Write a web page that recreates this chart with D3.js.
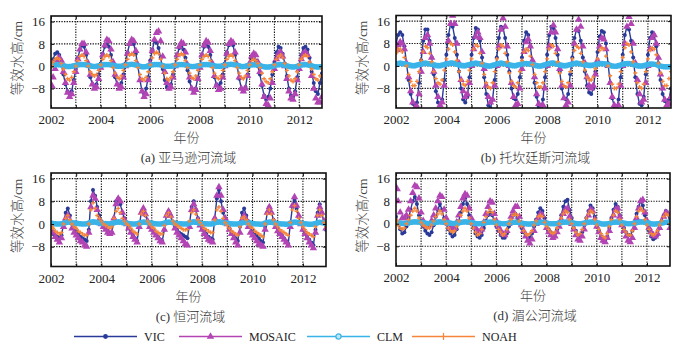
<!DOCTYPE html>
<html>
<head>
<meta charset="utf-8">
<script src="https://cdn.jsdelivr.net/npm/d3@7"></script>
<style>
  body { margin: 0; background: #fff; }
  svg { display: block; }
  text { font-family: "Liberation Serif", "Noto Sans CJK SC", serif; fill: #222; }
</style>
</head>
<body>
<svg id="chart" width="688" height="353"></svg>
<script>
const startYear = 2002;
const gridYears = [2002, 2003, 2004, 2005, 2006, 2007, 2008, 2009, 2010, 2011, 2012];
const labelYears = [2002, 2004, 2006, 2008, 2010, 2012];
const yTicks = [16, 8, 0, -8];
const yDomain = [-15, 18];
const seriesNames = ["VIC", "MOSAIC", "CLM", "NOAH"];
const captions = ["(a) 亚马逊河流域", "(b) 托坎廷斯河流域", "(c) 恒河流域", "(d) 湄公河流域"];
const yTitle = "等效水高/cm";
const xTitle = "年份";

// monthly values, Jan 2002 - Dec 2012, one row per year
const amazonVIC = [
  0, 2.5, 4.5, 5, 4, 1, -3, -6.5, -9, -10, -9, -5,
  -1, 3, 6, 7.5, 7, 4, 0, -4, -6.5, -7.5, -6.5, -3,
  1, 4.5, 7, 8, 7, 4, 0, -4, -6.5, -7, -6, -3,
  1, 5, 8, 9, 8, 4.5, 0, -5, -9, -10, -8, -4,
  2, 6, 9, 8.5, 6.5, 3, -1, -5, -7.5, -8, -6.5, -3,
  0.5, 4, 6.5, 7, 6, 3, -1.5, -5.5, -8, -9, -8, -4,
  0, 4, 7, 8, 7, 4, 0, -4, -6.5, -7, -6, -3,
  1, 5, 7.5, 8.5, 7.5, 4, 0, -4.5, -8, -9, -7.5, -3,
  1, 2.5, 3, 2, 0, -3, -7, -10.5, -12, -11, -8, -3,
  1.5, 5, 7, 6.5, 4.5, 1, -3.5, -8, -10.5, -11, -9, -4,
  0.5, 4, 6.5, 7, 6, 3, -2, -6, -9, -10, -6, -2.5
];
const amazonMOSAIC = [
  -7, -4, -1, 2, 3, 2, -2, -6, -9.5, -11, -10, -6,
  -2, 2.5, 6, 8, 8, 5, 1, -3, -6.5, -8, -7.5, -4.5,
  -0.5, 4, 7.5, 9.5, 9, 6, 1.5, -3, -6.5, -8, -7.5, -4,
  0, 4.5, 8, 9.5, 9, 5.5, 0.5, -5, -9, -11, -10, -5,
  1, 5.5, 9.5, 12, 12.5, 9, 3.5, -2, -6, -8, -7.5, -4,
  0, 4, 7, 8.5, 8, 5, 0.5, -4, -8, -9.5, -8.5, -4.5,
  -0.5, 4, 7.5, 9, 8.5, 5.5, 1, -3.5, -7, -8.5, -8, -4,
  0, 4.5, 8, 9, 8.5, 5, 0.5, -4, -8, -9, -8, -3.5,
  1, 3.5, 4.5, 4, 1.5, -2, -6.5, -11, -13.5, -14, -11.5, -6,
  -1, 2.5, 4.5, 5, 3.5, 0, -4.5, -9, -11.5, -12, -10, -5,
  -1, 2.5, 4.5, 5, 4, 1, -3.5, -8, -11.5, -13, -13, -11
];
const amazonCLM = [
  0.2, 0.4, 0.5, 0.6, 0.5, 0.4, 0.2, 0, -0.1, -0.1, 0, 0.1,
  0.3, 0.4, 0.6, 0.6, 0.6, 0.4, 0.3, 0.1, 0, -0.1, 0, 0.1,
  0.3, 0.5, 0.6, 0.6, 0.6, 0.4, 0.3, 0.1, 0, 0, 0, 0.2,
  0.3, 0.5, 0.6, 0.7, 0.6, 0.4, 0.2, 0, -0.2, -0.2, -0.1, 0.1,
  0.3, 0.5, 0.6, 0.6, 0.6, 0.4, 0.2, 0, 0, 0, 0, 0.2,
  0.3, 0.4, 0.6, 0.6, 0.6, 0.4, 0.2, 0, -0.1, -0.1, 0, 0.1,
  0.3, 0.5, 0.6, 0.6, 0.6, 0.4, 0.3, 0.1, 0, 0, 0, 0.2,
  0.3, 0.5, 0.6, 0.7, 0.6, 0.5, 0.3, 0.1, -0.1, -0.1, 0, 0.2,
  0.3, 0.5, 0.5, 0.5, 0.4, 0.2, 0, -0.2, -0.3, -0.3, -0.2, 0,
  0.2, 0.4, 0.5, 0.6, 0.5, 0.3, 0.1, -0.1, -0.2, -0.3, -0.2, 0,
  0.2, 0.4, 0.5, 0.6, 0.5, 0.3, 0.1, -0.1, -0.2, -0.3, -0.2, -0.1
];
const amazonNOAH = [
  0, 1.5, 2.5, 3, 2.5, 1, -1, -3, -4.5, -5, -4, -2,
  0, 2, 3.5, 4, 3.5, 2, 0, -2, -3, -3.5, -3, -1.5,
  0.5, 2.5, 3.5, 4, 3.5, 2, -0.5, -2.5, -4, -4.5, -3.5, -1.5,
  0.5, 2.5, 4, 4.5, 4, 2, -0.5, -3, -4.5, -5, -4, -2,
  0.5, 3, 4.5, 5, 4.5, 2.5, 0, -2.5, -4.5, -5, -4, -2,
  0.5, 2.5, 4, 4.5, 4, 2, -0.5, -2.5, -4, -4.5, -3.5, -1.5,
  0.5, 2.5, 3.5, 4, 3.5, 2, -0.5, -2.5, -4, -4.5, -3.5, -1.5,
  0.5, 2.5, 3.5, 4, 3.5, 2, -0.5, -2.5, -4, -4.5, -3.5, -1.5,
  0.5, 2, 2.5, 2, 1, -0.5, -2.5, -4.5, -5.5, -6, -4.5, -2,
  0.5, 2.5, 3.5, 4, 3, 1, -1.5, -3.5, -5, -5.5, -4.5, -2,
  0.5, 2.5, 3.5, 4, 3.5, 1.5, -1, -3, -4.5, -5, -3.5, -1
];

const tocantinsVIC = [
  8, 11, 12, 11, 7, 1, -5, -10, -13.5, -14, -13, -6,
  2, 9, 13, 13, 9, 3, -3, -9, -13, -14, -12, -5,
  4, 11, 15, 14, 10, 4, -2, -8, -12, -13, -11, -4,
  4, 10, 13.5, 13, 9, 3, -4, -10, -14, -15, -12, -5,
  3, 10, 14, 13.5, 10, 4, -2, -8, -11.5, -12, -10, -4,
  3, 9, 12, 11, 7, 1, -6, -11, -14.5, -15, -12, -4,
  4, 11, 14, 13.5, 10, 4, -2, -8, -11.5, -12, -10, -3,
  3, 10, 13, 12.5, 9, 3, -2, -7, -9.5, -10, -8, -2,
  5, 10.5, 12.5, 12, 8, 1, -6, -11.5, -14.5, -15, -12, -4,
  4, 11, 14, 13, 9, 3, -4, -10, -13.5, -14, -11, -3,
  4, 10, 12, 11, 7, 1, -5, -10, -12.5, -13, -12, -8
];
const tocantinsMOSAIC = [
  6, 7.5, 8.5, 8, 6, 1, -4, -9, -13, -15, -14.5, -10,
  -2, 5, 10, 11, 8, 3, -2, -7, -11, -14, -13, -7,
  1, 9, 15, 18, 15, 8, 1, -5, -9, -11, -10, -6,
  0, 6, 10.5, 12, 10, 5, -1, -7, -11, -13, -12, -7,
  0, 7, 13, 17, 14, 7, 0, -6, -11, -14, -13.5, -8,
  -1, 5, 8.5, 9.5, 7, 2, -4, -10, -13.5, -15, -14, -8,
  0, 7, 12, 14.5, 12, 6, -1, -7, -11.5, -14, -13, -7,
  1, 8, 13, 16.5, 14, 7, 1, -4, -7, -8, -7, -3,
  2, 7, 10, 9.5, 6, 0, -6, -11, -14, -15, -14, -7,
  0, 8, 14, 17.5, 15, 8, 1, -5, -10, -13, -12, -6,
  0, 6, 10, 11, 8, 3, -3, -8, -12, -14, -13.5, -11
];
const tocantinsCLM = [
  0.8, 0.9, 1, 0.9, 0.8, 0.6, 0.4, 0.2, 0.1, 0.1, 0.3, 0.5,
  0.7, 0.9, 1, 0.9, 0.8, 0.6, 0.4, 0.2, 0.1, 0.1, 0.3, 0.5,
  0.8, 0.9, 1, 1, 0.9, 0.6, 0.4, 0.2, 0.1, 0.1, 0.3, 0.5,
  0.7, 0.9, 1, 0.9, 0.8, 0.5, 0.3, 0.1, 0, 0, 0.2, 0.4,
  0.7, 0.9, 1, 0.9, 0.8, 0.6, 0.4, 0.2, 0.1, 0.1, 0.3, 0.5,
  0.7, 0.9, 0.9, 0.8, 0.7, 0.5, 0.3, 0.1, 0, 0, 0.2, 0.4,
  0.7, 0.9, 1, 1, 0.9, 0.6, 0.4, 0.2, 0.1, 0.1, 0.3, 0.5,
  0.7, 0.9, 1, 0.9, 0.8, 0.6, 0.4, 0.3, 0.2, 0.2, 0.3, 0.5,
  0.7, 0.9, 0.9, 0.8, 0.7, 0.4, 0.2, 0, -0.1, -0.1, 0.1, 0.3,
  0.6, 0.8, 0.9, 0.9, 0.8, 0.5, 0.3, 0.1, 0, 0, 0.1, 0.3,
  0.5, 0.7, 0.7, 0.6, 0.5, 0.2, 0, -0.2, -0.3, -0.3, -0.3, -0.2
];
const tocantinsNOAH = [
  5, 6, 6, 5, 3, 0, -3, -5.5, -7, -7, -5.5, -2,
  2, 5, 7, 6.5, 4.5, 1.5, -2, -4.5, -6, -6.5, -5, -1.5,
  2.5, 6, 8, 7.5, 5, 2, -2, -5, -6.5, -7, -5.5, -1.5,
  2.5, 6, 7.5, 7, 4.5, 1, -3, -6, -7.5, -8, -6, -2,
  2.5, 6, 7.5, 7, 4.5, 1.5, -2.5, -5.5, -7, -7.5, -6, -2,
  2, 5, 6, 5.5, 3.5, 0.5, -3, -6, -7.5, -7.5, -6, -2,
  2.5, 6, 7.5, 7, 4.5, 1.5, -2.5, -5.5, -7, -7.5, -6, -2,
  2.5, 5.5, 7, 6.5, 4.5, 1.5, -1.5, -4, -5, -5, -4, -1,
  2.5, 5.5, 6.5, 6, 3.5, 0, -3.5, -6.5, -8, -8, -6.5, -2,
  3, 6.5, 8, 7.5, 5, 1.5, -2.5, -6, -7.5, -8, -6.5, -2,
  2.5, 5.5, 6.5, 6, 4, 1, -2.5, -5.5, -7, -7, -4.5, -2
];

const gangesVIC = [
  -3, -3.5, -4, -4.5, -5, -4, 0, 4, 5.5, 3, 0, -1.5,
  -2.5, -3.5, -4.5, -5, -5.5, -6, -2, 8, 12, 10, 6, 3,
  1, -0.5, -1.5, -2.5, -3, -3, 2, 8, 9, 7, 4, 2,
  0.5, -1, -2.5, -4, -5, -6, -1, 4, 5, 3, 1, -0.5,
  -1.5, -2.5, -3.5, -4.5, -5.5, -6, -2, 3, 4.5, 3, 0.5, -1,
  -2, -3, -3.5, -4, -4.5, -5, 0, 6, 8, 5, 2, 0,
  -1.5, -2.5, -3.5, -4.5, -5, -5.5, 2, 9, 12, 8, 4, 1.5,
  0, -1.5, -3, -4, -5, -6, -1, 4, 5.5, 3, 1, -0.5,
  -2, -3, -4, -5, -6, -6.5, -1, 4, 6, 4, 1.5, 0,
  -1.5, -3, -4, -5, -6, -7, 0, 6, 8.5, 5.5, 2.5, 0,
  -2, -3, -4.5, -5.5, -6.5, -7.5, -2, 4, 7, 4, 0.5, -2
];
const gangesMOSAIC = [
  -2, -3, -4.5, -5.5, -6.5, -5, -1, 2, 3, 1, -1.5, -3,
  -4, -5, -6, -6.5, -7.5, -8, -3, 6, 10, 9, 5, 1.5,
  0, -1, -2, -3, -3.5, -3, 2, 7, 9, 8, 4, 1.5,
  0, -1.5, -3, -4.5, -5.5, -6.5, -1, 4, 5.5, 3.5, 1, -1,
  -2, -3, -4, -5, -6, -6.5, -2, 3, 4.5, 3, 0.5, -1.5,
  -3, -4, -5, -6, -7, -7.5, -1, 5, 7, 5, 1.5, -0.5,
  -2, -3.5, -4.5, -5.5, -6, -6.5, 2, 10, 13, 10, 5, 2,
  0, -2, -3.5, -5, -6.5, -7.5, -3, 1.5, 3, 1.5, -1, -3,
  -4, -5, -6, -7, -7.5, -8, -2, 4, 6, 4, 1, -1,
  -2.5, -3.5, -4.5, -5.5, -6.5, -7.5, -1, 6.5, 9.5, 6.5, 3, 0,
  -2, -3.5, -5, -6.5, -7.5, -8.5, -3, 3, 6, 4, 1, -1.5
];
const gangesCLM = [
  0.3, 0.2, 0.1, 0, 0, 0.1, 0.3, 0.5, 0.7, 0.6, 0.5, 0.3,
  0.3, 0.2, 0.1, 0, 0, 0.1, 0.3, 0.6, 0.8, 0.7, 0.5, 0.4,
  0.3, 0.2, 0.2, 0.1, 0.1, 0.2, 0.4, 0.6, 0.8, 0.7, 0.5, 0.4,
  0.3, 0.2, 0.1, 0, 0, 0.1, 0.3, 0.5, 0.7, 0.6, 0.5, 0.4,
  0.3, 0.2, 0.1, 0, 0, 0.1, 0.3, 0.5, 0.7, 0.6, 0.5, 0.3,
  0.2, 0.1, 0.1, 0, 0, 0.1, 0.4, 0.6, 0.8, 0.6, 0.5, 0.3,
  0.2, 0.1, 0.1, 0, 0, 0.1, 0.4, 0.6, 0.8, 0.7, 0.5, 0.4,
  0.3, 0.2, 0.1, 0, 0, 0, 0.2, 0.4, 0.6, 0.5, 0.4, 0.3,
  0.2, 0.1, 0, 0, -0.1, 0, 0.3, 0.5, 0.7, 0.6, 0.5, 0.3,
  0.2, 0.1, 0, 0, -0.1, 0, 0.3, 0.5, 0.7, 0.6, 0.5, 0.3,
  0.2, 0.1, 0, -0.1, -0.1, 0, 0.2, 0.4, 0.6, 0.5, 0.4, 0.2
];
const gangesNOAH = [
  -1, -1.5, -2.5, -3, -3.5, -3, 0, 2, 3, 1.5, 0, -1,
  -1.5, -2.5, -3, -3.5, -4, -4, 0, 5, 7.5, 5.5, 3, 2,
  1, 0, -0.5, -1, -1.5, -1, 2, 4.5, 5.5, 4, 2, 1,
  0, -0.5, -1.5, -2.5, -3, -3.5, 0, 3.5, 4.5, 3, 1, 0,
  -1, -1.5, -2.5, -3, -3.5, -3.5, -0.5, 3, 4, 2.5, 1, 0,
  -0.5, -1, -1.5, -2, -2, -2, 1, 4, 5, 3.5, 1.5, 0.5,
  -0.5, -1.5, -2, -2.5, -3, -3, 1.5, 5, 6, 4.5, 2, 0.5,
  -0.5, -1.5, -2.5, -3, -3.5, -4, -1, 2, 2.5, 1.5, 0, -1,
  -1.5, -2.5, -3, -3.5, -4, -4.5, 0, 3.5, 5, 3.5, 1.5, 0,
  -1, -2, -2.5, -3, -3.5, -4, 0.5, 5, 6.5, 4.5, 2, 0.5,
  -1, -2, -3, -3.5, -4, -4.5, -1, 3, 5, 3, 0.5, -1
];

const mekongVIC = [
  2.5, 0, -2, -3.5, -3, -1, 2, 5, 8, 9.5, 7, 3,
  1, -1, -2.5, -3.5, -4, -3, -0.5, 2.5, 5, 7, 5, 2,
  0, -2, -3.5, -4.5, -4, -2, 1, 4, 7, 9, 7, 3,
  0.5, -1.5, -3.5, -4.5, -5, -4, -1.5, 1, 3, 4, 3, 1,
  -1, -2.5, -4, -5, -5, -3.5, -1, 1, 3, 3.5, 2, 0,
  -1.5, -3, -4, -5, -5, -3.5, -1, 1.5, 4, 5.5, 4.5, 2,
  0, -2, -3, -4, -3.5, -2, 0.5, 3, 6, 8, 8.5, 5,
  2, -0.5, -2.5, -4, -4.5, -3, -0.5, 2, 4.5, 6.5, 5.5, 2.5,
  0, -2.5, -4.5, -6, -6, -4.5, -1.5, 2, 5, 7, 6, 3,
  0.5, -1.5, -3, -4, -4, -2.5, 0.5, 3.5, 6, 8, 6.5, 3,
  0, -2.5, -4.5, -5.5, -5, -4, -1.5, 1, 3, 4.5, 3.5, 0
];
const mekongMOSAIC = [
  12.5, 8, 4, 2, 2, 3, 5, 8, 11, 13.5, 13, 9,
  4, 1, -0.5, -1, -0.5, 1, 3, 5.5, 8, 10, 9.5, 5,
  2, 0, -1.5, -2, -1.5, 0.5, 3, 6, 9, 10.5, 10, 5.5,
  2, 0, -1.5, -2.5, -3, -2, 0.5, 3.5, 6, 8, 7.5, 3.5,
  1, -1, -2.5, -3.5, -4, -2.5, 0, 2.5, 4.5, 6, 6, 2.5,
  -0.5, -2.5, -4.5, -6, -7, -5.5, -2.5, 0, 2, 3.5, 3, 0.5,
  -1.5, -3, -4, -5, -4.5, -3, -1, 1.5, 3.5, 5, 5.5, 2.5,
  0, -2, -4, -5.5, -6, -4.5, -2, 0.5, 3, 5, 4.5, 1.5,
  -1, -3, -5, -6, -6.5, -5, -2.5, 0.5, 3, 5, 5.5, 2.5,
  -0.5, -2.5, -4.5, -6, -6.5, -5, -1.5, 2, 5.5, 8, 8.5, 4,
  1, -1.5, -3, -4, -4.5, -3.5, -1.5, 0.5, 2.5, 4, 3.5, -1.5
];
const mekongCLM = [
  0.5, 0.4, 0.2, 0.1, 0.1, 0.2, 0.3, 0.5, 0.6, 0.7, 0.6, 0.6,
  0.4, 0.3, 0.2, 0.1, 0.1, 0.2, 0.3, 0.5, 0.6, 0.7, 0.6, 0.5,
  0.4, 0.3, 0.2, 0.1, 0.1, 0.2, 0.3, 0.5, 0.6, 0.7, 0.6, 0.5,
  0.4, 0.3, 0.1, 0, 0, 0.1, 0.2, 0.4, 0.5, 0.6, 0.6, 0.5,
  0.3, 0.2, 0.1, 0, 0, 0.1, 0.2, 0.4, 0.5, 0.5, 0.5, 0.4,
  0.2, 0.1, 0, -0.1, -0.1, 0, 0.1, 0.3, 0.4, 0.5, 0.5, 0.4,
  0.2, 0.1, 0, 0, 0, 0.1, 0.2, 0.4, 0.5, 0.6, 0.6, 0.5,
  0.4, 0.2, 0.1, 0, 0, 0.1, 0.2, 0.4, 0.5, 0.6, 0.6, 0.5,
  0.3, 0.2, 0, -0.1, -0.1, 0, 0.1, 0.4, 0.5, 0.6, 0.6, 0.5,
  0.3, 0.2, 0.1, 0, 0, 0.1, 0.2, 0.4, 0.5, 0.7, 0.6, 0.5,
  0.3, 0.2, 0, -0.1, -0.1, 0, 0.1, 0.3, 0.4, 0.5, 0.5, 0.3
];
const mekongNOAH = [
  1, -0.5, -1.5, -2, -1.5, 0, 1.5, 3, 4.5, 5.5, 4.5, 2,
  0.5, -0.5, -1, -1.5, -1.5, -0.5, 1, 2.5, 3.5, 4.5, 3.5, 1.5,
  0, -1.5, -2.5, -3, -2.5, -1, 1, 3, 4.5, 5.5, 4.5, 2,
  0, -1.5, -3, -4, -3.5, -2, 0.5, 2.5, 4, 5, 4, 1.5,
  -0.5, -2, -3, -4, -3.5, -2, 0, 1.5, 3, 3.5, 3, 1,
  -1, -2.5, -3.5, -4, -3.5, -2.5, -0.5, 1, 2.5, 3, 2.5, 0.5,
  -1, -2, -3, -3.5, -3, -1.5, 0, 2, 3.5, 4.5, 4, 1.5,
  0, -1.5, -3, -4, -3.5, -2, 0, 2, 3.5, 4.5, 4, 1.5,
  -0.5, -2, -3.5, -4.5, -5, -3.5, -1, 1.5, 3, 4.5, 4, 1.5,
  -0.5, -2, -3, -4, -4, -2.5, 0, 2.5, 4.5, 5.5, 4.5, 1.5,
  -0.5, -2, -3.5, -4, -3.5, -2.5, -0.5, 1, 2.5, 3.5, 3, 0
];

const panelData = [
  [amazonVIC, amazonMOSAIC, amazonCLM, amazonNOAH],
  [tocantinsVIC, tocantinsMOSAIC, tocantinsCLM, tocantinsNOAH],
  [gangesVIC, gangesMOSAIC, gangesCLM, gangesNOAH],
  [mekongVIC, mekongMOSAIC, mekongCLM, mekongNOAH]
];

// layout
const boxes = [
  { x: 51, y: 16, w: 271, h: 92 },
  { x: 396, y: 15.5, w: 275, h: 92.5 },
  { x: 51, y: 173, w: 275, h: 93.5 },
  { x: 396, y: 173, w: 274, h: 93 }
];
const colors = { VIC: "#2a3a98", MOSAIC: "#b244b4", CLM: "#3ab4e8", NOAH: "#f5853a" };
const fontSize = 13;

const svg = d3.select("#chart");
const defs = svg.append("defs");

function markerPath(name) {
  if (name === "MOSAIC") return d3.symbol(d3.symbolTriangle, 24)();
  if (name === "NOAH") return d3.symbol(d3.symbolCross, 9)();
  return null;
}

function drawMarkers(sel, name, pts) {
  if (name === "VIC" || name === "CLM") {
    sel.selectAll("circle")
      .data(pts)
      .join("circle")
      .attr("cx", (d) => d[0])
      .attr("cy", (d) => d[1])
      .attr("r", name === "VIC" ? 2 : 2.8)
      .attr("fill", colors[name]);
  } else {
    sel.selectAll("path")
      .data(pts)
      .join("path")
      .attr("transform", (d) => `translate(${d[0]},${d[1]})`)
      .attr("d", markerPath(name))
      .attr("fill", colors[name]);
  }
}

function drawPanel(idx) {
  const b = boxes[idx];
  const data = panelData[idx];
  const n = data[0].length;
  const g = svg.append("g").attr("transform", `translate(${b.x},${b.y})`);

  const x = d3.scaleLinear().domain([startYear, startYear + (n - 1) / 12]).range([0, b.w]);
  const y = d3.scaleLinear().domain(yDomain).range([b.h, 0]);

  // dotted grid
  const grid = g.append("g");
  grid.selectAll("line.v")
    .data(gridYears.slice(1))
    .join("line")
    .attr("class", "v")
    .attr("x1", (d) => x(d)).attr("x2", (d) => x(d))
    .attr("y1", 0).attr("y2", b.h);
  grid.selectAll("line.h")
    .data(yTicks)
    .join("line")
    .attr("class", "h")
    .attr("x1", 0).attr("x2", b.w)
    .attr("y1", (d) => y(d)).attr("y2", (d) => y(d));
  grid.selectAll("line")
    .attr("stroke", "#111")
    .attr("stroke-width", 1.1)
    .attr("stroke-dasharray", "1.3,1.3");

  // series
  const clipId = `clip${idx}`;
  defs.append("clipPath").attr("id", clipId)
    .append("rect").attr("width", b.w).attr("height", b.h);
  const plot = g.append("g").attr("clip-path", `url(#${clipId})`);

  seriesNames.forEach((name, s) => {
    const pts = data[s].map((v, i) => [x(startYear + i / 12), y(v)]);
    const sg = plot.append("g").attr("class", `series-${name}`);
    sg.append("path")
      .attr("d", d3.line()(pts))
      .attr("fill", "none")
      .attr("stroke", colors[name])
      .attr("stroke-width", name === "CLM" ? 2.5 : 1.4);
    drawMarkers(sg, name, pts);
  });

  // axes with inward ticks
  g.append("g")
    .attr("transform", `translate(0,${b.h})`)
    .call(d3.axisBottom(x).tickValues(gridYears).tickSize(-3).tickPadding(7)
      .tickFormat((d) => (labelYears.includes(d) ? d : "")));
  g.append("g").call(d3.axisTop(x).tickValues(gridYears).tickSize(-3).tickFormat(""));
  const left = g.append("g")
    .call(d3.axisLeft(y).tickValues(yTicks).tickSize(-3).tickPadding(6));
  g.append("g")
    .attr("transform", `translate(${b.w},0)`)
    .call(d3.axisRight(y).tickValues(yTicks).tickSize(-3).tickFormat(""));
  g.selectAll(".domain").remove();
  g.selectAll(".tick line").attr("stroke", "#111").attr("stroke-width", 1);
  g.selectAll(".tick text")
    .attr("font-size", fontSize)
    .attr("font-family", null)
    .attr("fill", "#222");
  left.selectAll(".tick text").text((d) => (d < 0 ? "\u2212" + Math.abs(d) : d));

  g.append("rect")
    .attr("width", b.w).attr("height", b.h)
    .attr("fill", "none")
    .attr("stroke", "#111")
    .attr("stroke-width", 1.6);

  // titles
  g.append("text")
    .attr("transform", `translate(${-34},${b.h / 2 - 4}) rotate(-90)`)
    .attr("text-anchor", "middle")
    .attr("dy", "0.35em")
    .attr("font-size", 13.5)
    .attr("font-weight", 300)
    .style("fill", "#444")
    .text(yTitle);
  g.append("text")
    .attr("x", b.w / 2).attr("y", b.h + 34)
    .attr("text-anchor", "middle")
    .attr("font-size", fontSize)
    .attr("font-weight", 300)
    .style("fill", "#444")
    .text(xTitle);
  g.append("text")
    .attr("x", b.w / 2 + 2).attr("y", b.h + 54)
    .attr("text-anchor", "middle")
    .attr("font-size", fontSize)
    .attr("font-weight", 300)
    .style("fill", "#333")
    .text(captions[idx]);
}

boxes.forEach((b, i) => drawPanel(i));

// legend
const legendStarts = [74, 179, 307, 412];
const legendY = 336.5;
const legendLine = 63;
const legend = svg.append("g");
seriesNames.forEach((name, i) => {
  const lg = legend.append("g").attr("transform", `translate(${legendStarts[i]},${legendY})`);
  lg.append("line")
    .attr("x1", 0).attr("x2", legendLine)
    .attr("stroke", colors[name])
    .attr("stroke-width", 1.3);
  if (name === "CLM") {
    lg.append("circle").attr("cx", legendLine / 2).attr("r", 2.6)
      .attr("fill", "#bfe6f7").attr("stroke", colors[name]).attr("stroke-width", 1.3);
  } else {
    drawMarkers(lg, name, [[legendLine / 2, 0]]);
    if (name === "NOAH") lg.select("path").attr("d", "M-0.6,-3.5h1.2v7h-1.2z");
    if (name === "VIC") lg.select("circle").attr("r", 2.4);
  }
  lg.append("text")
    .attr("x", legendLine + 7)
    .attr("dy", "0.35em")
    .attr("font-size", 12)
    .text(name);
});
</script>
</body>
</html>
